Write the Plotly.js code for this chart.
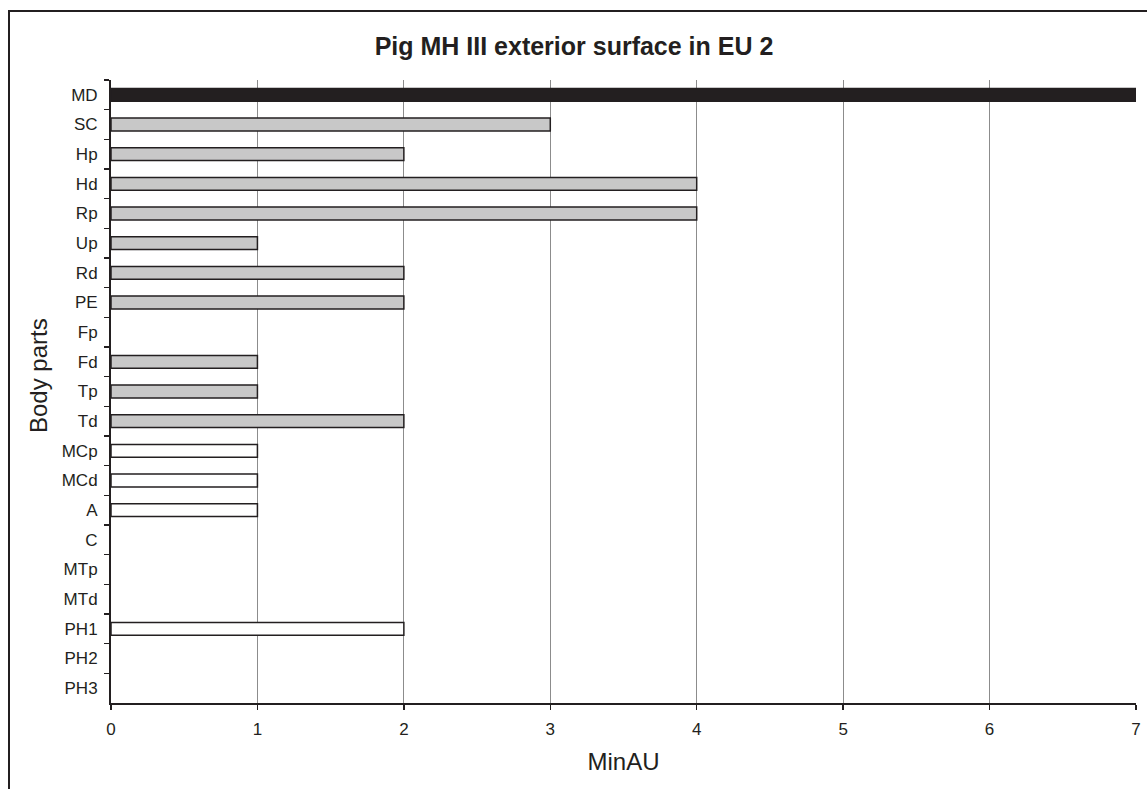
<!DOCTYPE html>
<html>
<head>
<meta charset="utf-8">
<script src="https://cdn.plot.ly/plotly-3.0.1.min.js"></script>
<style>
  html, body { margin: 0; padding: 0; background: #fff; }
  #wrap { position: relative; width: 1147px; height: 789px; }
  #chart { position: absolute; left: 0; top: 0; width: 1147px; height: 789px; }
  #frameL { position: absolute; left: 8px; top: 10px; width: 2px; height: 779px; background: #231f20; z-index: 5; }
  #frameT { position: absolute; left: 8px; top: 10px; width: 1139px; height: 2px; background: #231f20; z-index: 5; }
</style>
</head>
<body>
<div id="wrap">
  <div id="chart"></div>
  <div id="frameL"></div>
  <div id="frameT"></div>
</div>
<script>
const categories = ["MD","SC","Hp","Hd","Rp","Up","Rd","PE","Fp","Fd","Tp","Td","MCp","MCd","A","C","MTp","MTd","PH1","PH2","PH3"];
const values =     [7, 3, 2, 4, 4, 1, 2, 2, 0, 1, 1, 2, 1, 1, 1, 0, 0, 0, 2, 0, 0];
const groups =     ["skull","axial","fore","fore","fore","fore","fore","hind","hind","hind","hind","hind","manus","manus","tarsal","tarsal","tarsal","tarsal","phal","phal","phal"];
const xTicks = [0,1,2,3,4,5,6,7];

const groupColor = {skull:"#231f20", axial:"#c8c8c8", fore:"#c8c8c8", hind:"#c8c8c8", manus:"#ffffff", tarsal:"#ffffff", phal:"#ffffff"};
const colors = groups.map(g => groupColor[g]);
const lineWidths = values.map(v => v > 0 ? 1.5 : 0);

const font = "Liberation Sans, Arial, Helvetica, sans-serif";
const ink = "#231f20";

Plotly.newPlot("chart", [{
  type: "bar",
  orientation: "h",
  y: categories,
  x: values,
  marker: { color: colors, line: { color: ink, width: lineWidths } },
  width: 0.43,
  hoverinfo: "x+y"
}], {
  width: 1147, height: 789,
  margin: { l: 111, r: 11, t: 80, b: 86, pad: 0 },
  paper_bgcolor: "#ffffff",
  plot_bgcolor: "#ffffff",
  showlegend: false,
  title: {
    text: "<b>Pig MH III exterior surface in EU 2</b>",
    font: { family: font, size: 25, color: ink },
    x: 574/1147, xref: "container", xanchor: "center",
    y: 1 - 46/789, yref: "container", yanchor: "middle"
  },
  annotations: [{
    text: "Body parts",
    textangle: -90,
    xref: "paper", yref: "paper",
    x: (38 - 111) / 1025, y: (703 - 376) / 623,
    xanchor: "center", yanchor: "middle",
    showarrow: false,
    font: { family: font, size: 24, color: ink }
  }],
  xaxis: {
    range: [0, 7],
    tickvals: xTicks,
    ticktext: xTicks.map(String),
    showgrid: true, gridcolor: "#8c8c8c", gridwidth: 1,
    zeroline: false,
    showline: true, linecolor: ink, linewidth: 2,
    ticks: "outside", ticklen: 5, tickcolor: ink, tickwidth: 1.5,
    tickfont: { family: font, size: 17, color: ink },
    ticklabelstandoff: 5,
    title: { text: "MinAU", font: { family: font, size: 24, color: ink }, standoff: 15 },
    fixedrange: true
  },
  yaxis: {
    type: "category",
    categoryorder: "array",
    categoryarray: categories,
    autorange: "reversed",
    showgrid: false, zeroline: false,
    showline: true, linecolor: ink, linewidth: 2,
    ticks: "outside", ticklen: 5, tickcolor: ink, tickwidth: 1.5,
    tickson: "boundaries",
    tickfont: { family: font, size: 17, color: ink },
    ticklabelstandoff: 8,
    fixedrange: true
  }
}, { displayModeBar: false, staticPlot: true });
</script>
</body>
</html>
